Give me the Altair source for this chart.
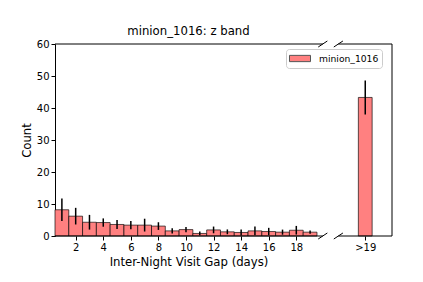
import altair as alt
import pandas as pd

# ---- data ----
days = list(range(1, 20))
counts = [8.2, 6.2, 4.3, 4.2, 3.6, 3.4, 3.4, 3.1, 1.6, 2.0, 0.8, 1.9, 1.3, 1.1, 1.6, 1.4, 1.2, 1.8, 1.2]
errors = [3.5, 2.6, 2.3, 1.3, 1.4, 1.3, 2.0, 1.2, 0.8, 0.85, 0.6, 1.05, 0.75, 0.95, 1.4, 1.15, 0.8, 1.35, 0.5]
over_label = ">19"
over_pos = [23]          # position of the overflow bin on the broken axis
over_count = [43.3]
over_error = [5.3]
series = "minion_1016"
title_text = "minion_1016: z band"
x_ticks = [2, 4, 6, 8, 10, 12, 14, 16, 18]
y_ticks = [0, 10, 20, 30, 40, 50, 60]

# broken-axis limits (like two matplotlib xlims on a common scale)
X_MIN, LEFT_END, RIGHT_START, RIGHT_END = 0.5, 19.92, 21.05, 24.94
Y_MIN, Y_MAX = 0, 60

FONT = "DejaVu Sans"
FILL = "#ff8080"

pos = days + over_pos
vals = counts + over_count
errs = errors + over_error
df = pd.DataFrame({
    "day": pos,
    "lo": [p - 0.5 for p in pos],
    "hi": [p + 0.5 for p in pos],
    "count": vals,
    "elo": [c - e for c, e in zip(vals, errs)],
    "ehi": [c + e for c, e in zip(vals, errs)],
    "series": [series] * len(pos),
})

# frame segments of the broken axes
segs = [
    (X_MIN, LEFT_END, Y_MAX, Y_MAX),
    (RIGHT_START, RIGHT_END, Y_MAX, Y_MAX),
    (X_MIN, LEFT_END, Y_MIN, Y_MIN),
    (RIGHT_START, RIGHT_END, Y_MIN, Y_MIN),
    (RIGHT_END, RIGHT_END, Y_MIN, Y_MAX),
]
dx, dy = 0.33, 0.94
for xc in (LEFT_END, RIGHT_START):
    for yc in (Y_MIN, Y_MAX):
        segs.append((xc - dx, xc + dx, yc - dy, yc + dy))
frame = pd.DataFrame(segs, columns=["x", "x2", "y", "y2"])

xscale = alt.Scale(domain=[X_MIN, RIGHT_END], nice=False, zero=False)
yscale = alt.Scale(domain=[Y_MIN, Y_MAX], nice=False)

x_axis = alt.Axis(values=x_ticks + over_pos, format="d", grid=False, domain=False,
                  labelOverlap=False,
                  labelExpr="datum.value > 19 ? '" + over_label + "' : datum.label",
                  title="Inter-Night Visit Gap (days)", titleX=133.5)
y_axis = alt.Axis(values=y_ticks, grid=False, labelOverlap=False, title="Count")

base = alt.Chart(df)
bars = base.mark_bar(stroke="black", strokeOpacity=0.65, strokeWidth=1).encode(
    x=alt.X("lo:Q", scale=xscale, axis=x_axis),
    x2="hi:Q",
    y=alt.Y("count:Q", scale=yscale, axis=y_axis),
    y2=alt.datum(0),
    color=alt.Color("series:N", scale=alt.Scale(range=[FILL]),
                    legend=alt.Legend(
                        title=None, orient="none", legendX=231, legendY=5,
                        symbolType="M-1.91,-0.57L1.91,-0.57L1.91,0.57L-1.91,0.57Z", symbolSize=121,
                        symbolOffset=4.5,
                        symbolStrokeColor="#555555", symbolStrokeWidth=1, symbolOpacity=1,
                        labelFont=FONT, labelFontSize=9.2, labelColor="black", labelOffset=13,
                        strokeColor="#cccccc", fillColor="white", padding=3.5, cornerRadius=3)),
)
errbars = base.mark_rule(color="black", strokeWidth=1.5).encode(
    x=alt.X("day:Q", scale=xscale, axis=x_axis),
    y=alt.Y("elo:Q", scale=yscale, axis=y_axis),
    y2="ehi:Q")

frame_rules = alt.Chart(frame).mark_rule(color="black", strokeWidth=1).encode(
    x=alt.X("x:Q", scale=xscale, axis=x_axis),
    x2="x2:Q",
    y=alt.Y("y:Q", scale=yscale, axis=y_axis),
    y2="y2:Q")

chart = alt.layer(bars, errbars, frame_rules).properties(
    width=407, height=266,
    autosize=alt.AutoSizeParams(type="fit", contains="padding"),
    padding={"left": 13, "top": 18, "right": 22, "bottom": 6},
    title=alt.TitleParams(title_text, font=FONT, fontSize=11.7, fontWeight="normal",
                          color="black", dx=-35, offset=1),
).configure_view(stroke=None).configure_axis(
    labelFont=FONT, labelFontSize=10, labelColor="black",
    titleFont=FONT, titleFontSize=11.7, titleFontWeight="normal", titleColor="black",
    tickColor="black", domainColor="black", tickSize=4, labelPadding=2,
    domainWidth=1, tickWidth=1, labelOverlap=False,
)

chart.save("out.html", embed_options={"renderer": "svg", "actions": False})
